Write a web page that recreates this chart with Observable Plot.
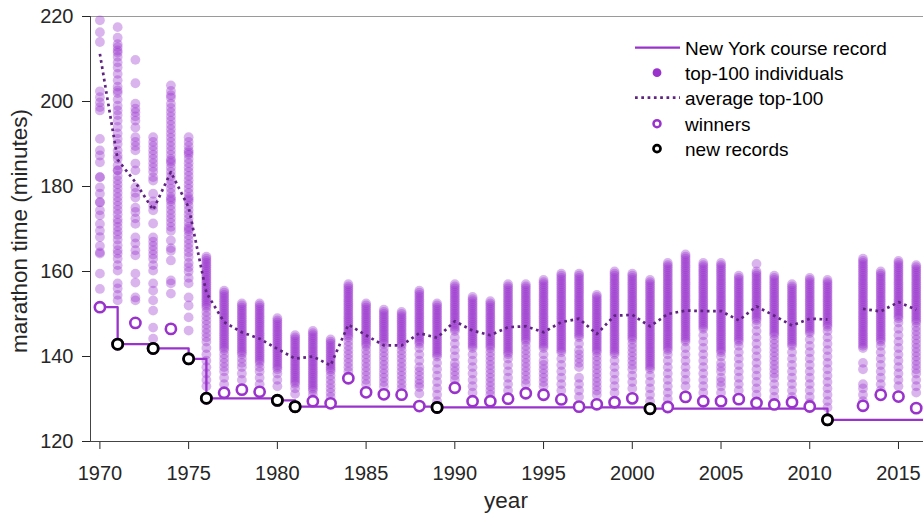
<!DOCTYPE html>
<html><head><meta charset="utf-8">
<script src="https://cdn.jsdelivr.net/npm/d3@7"></script>
<script src="https://cdn.jsdelivr.net/npm/@observablehq/plot@0.6"></script>
<style>
body{margin:0;background:#fff;font-family:"Liberation Sans",Arial,Helvetica,sans-serif;}
#wrap{position:relative;width:923px;height:514px;overflow:hidden;}
.lab{position:absolute;color:#262626;font-size:22.5px;white-space:nowrap;line-height:normal;}
#legend{position:absolute;left:635px;top:34.5px;font-size:19px;color:#000;}
#legend .row{display:flex;align-items:center;height:25.4px;}
#legend svg{width:45px;height:25.4px;margin-right:5px;flex:none;}
#legend span{line-height:1;position:relative;top:1px;}
</style></head><body><div id="wrap"></div>
<script>
// ---- data ----
const years = [1970,1971,1972,1973,1974,1975,1976,1977,1978,1979,1980,1981,1982,1983,1984,1985,1986,1987,1988,1989,1990,1991,1992,1993,1994,1995,1996,1997,1998,1999,2000,2001,2002,2003,2004,2005,2006,2007,2008,2009,2010,2011,2013,2014,2015,2016];

const winnerTimes = [151.6,142.9,147.9,141.9,146.5,139.45,130.17,131.47,132.2,131.7,129.68,128.2,129.48,128.98,134.88,131.57,131.1,131.02,128.33,128.02,132.65,129.47,129.48,130.07,131.35,131.0,129.9,128.2,128.75,129.23,130.15,127.72,128.12,130.5,129.47,129.5,129.97,129.07,128.72,129.25,128.23,125.1,128.4,130.98,130.57,127.85];

const recordYears = [1970,1971,1973,1975,1976,1980,1981,1989,2001,2011];
const recordTimes = [151.6,142.9,141.9,139.45,130.17,129.68,128.2,128.02,127.72,125.1];
const newRecordYears = [1971,1973,1975,1976,1980,1981,1989,2001,2011];

const avgYears = [1970,1971,1972,1973,1974,1975,1976,1977,1978,1979,1980,1981,1982,1983,1984,1985,1986,1987,1988,1989,1990,1991,1992,1993,1994,1995,1996,1997,1998,1999,2000,2001,2002,2003,2004,2005,2006,2007,2008,2009,2010,2011,2012,2013,2014,2015,2016];
const avgTop100 = [211.2,186.3,181.0,174.5,183.4,175.1,155.0,148.1,145.7,144.2,141.8,139.5,140.0,137.9,147.5,145.0,142.6,142.6,145.5,144.4,148.3,146.1,145.0,146.9,147.1,145.7,148.1,148.9,145.3,149.6,149.8,147.1,150.0,150.8,150.7,150.7,148.5,151.8,149.6,147.3,148.9,148.7,null,151.2,150.6,152.8,151.0];

// top-100 finishing times per year (minutes), aligned with `years`
const top100 = [
[151.6,155.9,159.5,164.2,164.5,166,168.1,169.6,171.2,173.2,174.4,176.3,176.3,178.3,179.8,182.2,182.2,185.7,187.3,188.5,191.2,197.9,198.7,199.8,201,202.4,214,216.3,219.1],
[153.2,154.5,156,157.2,160.2,161.5,163,164.2,165,166.2,167.5,168.6,169.5,170.5,171.5,172.3,173.5,174.5,175.5,176.5,177.5,178.5,179.5,180.5,181.5,182.5,183.8,183.8,185,186.5,187.3,188.5,190,191.2,192.5,194,195.5,196.8,197.9,199,200.5,202,202.6,203.5,205,206.5,208,209.2,210.5,211.5,212,212.8,213.5,215,217.5],
[153.2,153.9,157.4,159.5,163.8,165,166.6,168,171.2,172.5,174,175,177.4,178.5,179.8,183.8,185.4,188.5,189.5,190.5,191.6,193.9,195.5,196.5,197.5,198.3,199.5,204.3,209.8],
[144.2,146.8,150.8,153.2,155.5,157.2,160.2,161.5,163,164,165,166,167,168,171.3,174.4,175.5,176.5,178.3,181.4,182.2,183.5,184.5,185.5,186.5,187.5,188.5,189.5,190.5,191.6],
[154.8,157.2,157.9,162.6,164.9,165.5,167.3,169.6,170.5,171.5,172.5,173.5,174.5,175.5,176.5,177,177.5,178.5,179.5,180.5,181.5,182.5,183.5,184.5,185.5,186,186.5,187.5,188.5,189.5,190.5,191.5,192.5,193.5,194.5,195.5,196.5,197.5,198.5,199.5,200.9,201.5,202.5,203.8],
[146.1,149.2,152,153.9,157.2,158.5,160,161,162,163.4,164.5,165.5,166.5,167.5,168.5,169.5,170,170.5,171.5,172.5,173.5,174.5,175.5,176.5,177,177.5,178.5,179.5,180.5,181.5,182.5,183.5,184.5,185.5,186.5,187.5,188,188.5,189.5,190.5,191.6],
[133,134.5,136,137.5,139,140.5,142,143.5,144.5,145.5,146.5,147.5,148.5,149.5,150.5,151.5,152,152.5,153,153.5,154,154.5,155,155.5,156,156.5,157,157.5,158,158.5,159,159.5,160,160.5,161,161.5,162,162.5,163,163.5],
[133.5,135,136.5,137.5,138.5,139.5,140.5,141.5,142,142.5,143,143.5,144,144.5,145,145.5,146,146.5,147,147.5,148,148.5,149,149.5,150,150.5,151,151.5,152,152.5,153,153.5,154,154.5,155,155.5],
[134.5,136,137.5,138.5,139.5,140.5,141,141.5,142,142.5,143,143.5,144,144.5,145,145.5,146,146.5,147,147.5,148,148.5,149,149.5,150,150.5,151,151.5,152,152.5],
[133.5,135,136.5,137.5,138.5,139,139.5,140,140.5,141,141.5,142,142.5,143,143.5,144,144.5,145,145.5,146,146.5,147,147.5,148,148.5,149,149.5,150,150.5,151,151.5,152,152.5],
[133,134.5,136,137,137.5,138,138.5,139,139.5,140,140.5,141,141.5,142,142.5,143,143.5,144,144.5,145,145.5,146,146.5,147,147.5,148,148.5,149],
[131.2,132.5,133.5,134,134.5,135,135.5,136,136.5,137,137.5,138,138.5,139,139.5,140,140.5,141,141.5,142,142.5,143,143.5,144,144.5,145],
[131,132,132.5,133,133.5,134,134.5,135,135.5,136,136.5,137,137.5,138,138.5,139,139.5,140,140.5,141,141.5,142,142.5,143,143.5,144,144.5,145,145.5,146],
[130.5,131.5,132.5,133.5,134.5,135.5,136.5,137,137.5,138,138.5,139,139.5,140,140.5,141,141.5,142,142.5,143,143.5,144],
[136.5,137.5,138.5,139.5,140.5,141.5,142.5,143.5,144.5,145,145.5,146,146.5,147,147.5,148,148.5,149,149.5,150,150.5,151,151.5,152,152.5,153,153.5,154,154.5,155,155.5,156,156.5,157],
[133.5,134.5,135.5,136.5,137.5,138.5,139.5,140.5,141.5,142.5,143,143.5,144,144.5,145,145.5,146,146.5,147,147.5,148,148.5,149,149.5,150,150.5,151,151.5,152,152.5],
[133,134,135,136,137,138,139,140,141,142,143,143.5,144,144.5,145,145.5,146,146.5,147,147.5,148,148.5,149,149.5,150,150.5,151],
[132.5,133.5,134.5,135.5,136.5,137.5,138.5,139.5,140.5,141.5,142.5,143,143.5,144,144.5,145,145.5,146,146.5,147,147.5,148,148.5,149,149.5,150,150.5],
[131.3,132.8,133.6,134.5,135.5,136.5,137.5,139,140.5,142,143,143.5,144,144.5,145,145.5,146,146.5,147,147.5,148,148.5,149,149.5,150,150.5,151,151.5,152,152.5,153,153.5,154,154.5,155,155.5],
[129.5,131,132.5,134,135.5,137,138.5,140,140.5,141,141.5,142,142.5,143,143.5,144,144.5,145,145.5,146,146.5,147,147.5,148,148.5,149,149.5,150,150.5,151,151.5,152,152.5],
[134.5,135.5,136.5,137.5,138.5,140,141.5,143,144.5,146,146.5,147,147.5,148,148.5,149,149.5,150,150.5,151,151.5,152,152.5,153,153.5,154,154.5,155,155.5,156,156.5,157],
[131.5,133,134.5,136,137.5,139,140.5,142,142.5,143,143.5,144,144.5,145,145.5,146,146.5,147,147.5,148,148.5,149,149.5,150,150.5,151,151.5,152,152.5,153,153.5,154],
[131,132,133,134,135,136,137,138,139,140,141,142,142.5,143,143.5,144,144.5,145,145.5,146,146.5,147,147.5,148,148.5,149,149.5,150,150.5,151,151.5,152,152.5,153],
[132,133.5,135,136.5,138,139.5,140.5,141,141.5,142,142.5,143,143.5,144,144.5,145,145.5,146,146.5,147,147.5,148,148.5,149,149.5,150,150.5,151,151.5,152,152.5,153,153.5,154,154.5,155,155.5,156,156.5,157],
[133.5,134.5,135.5,136.5,137.5,138.5,139.5,140.5,141.5,142.5,143.5,144,144.5,145,145.5,146,146.5,147,147.5,148,148.5,149,149.5,150,150.5,151,151.5,152,152.5,153,153.5,154,154.5,155,155.5,156,156.5,157],
[133,134,135,136,137,138,139,140.5,142,142.5,143,143.5,144,144.5,145,145.5,146,146.5,147,147.5,148,148.5,149,149.5,150,150.5,151,151.5,152,152.5,153,153.5,154,154.5,155,155.5,156,156.5,157,157.5,158],
[132,133.5,135,136.5,138,139.5,141,141.5,142,142.5,143,143.5,144,144.5,145,145.5,146,146.5,147,147.5,148,148.5,149,149.5,150,150.5,151,151.5,152,152.5,153,153.5,154,154.5,155,155.5,156,156.5,157,157.5,158,158.5,159,159.5],
[130.5,132,133.5,135,137.5,138.5,139.5,140.5,141.5,143,144.5,145,145.5,146,146.5,147,147.5,148,148.5,149,149.5,150,150.5,151,151.5,152,152.5,153,153.5,154,154.5,155,155.5,156,156.5,157,157.5,158,158.5,159,159.5],
[131,132,133,134,135,136,137,138,139,140,141,141.5,142,142.5,143,143.5,144,144.5,145,145.5,146,146.5,147,147.5,148,148.5,149,149.5,150,150.5,151,151.5,152,152.5,153,153.5,154,154.5],
[131.5,133,134.5,136,137.5,139,140.5,141,141.5,142,142.5,143,143.5,144,144.5,145,145.5,146,146.5,147,147.5,148,148.5,149,149.5,150,150.5,151,151.5,152,152.5,153,153.5,154,154.5,155,155.5,156,156.5,157,157.5,158,158.5,159,159.5,160],
[132.5,134,135.5,137,138,139,140,141,142,143,144,144.5,145,145.5,146,146.5,147,147.5,148,148.5,149,149.5,150,150.5,151,151.5,152,152.5,153,153.5,154,154.5,155,155.5,156,156.5,157,157.5,158,158.5,159,159.5],
[129.5,131,132.5,134,135.5,137,137.5,138,138.5,139,139.5,140,140.5,141,141.5,142,142.5,143,143.5,144,144.5,145,145.5,146,146.5,147,147.5,148,148.5,149,149.5,150,150.5,151,151.5,152,152.5,153,153.5,154,154.5,155,155.5,156,156.5,157,157.5,158],
[130,131.5,133,134.5,136,137.5,139,140.5,141.5,142,142.5,143,143.5,144,144.5,145,145.5,146,146.5,147,147.5,148,148.5,149,149.5,150,150.5,151,151.5,152,152.5,153,153.5,154,154.5,155,155.5,156,156.5,157,157.5,158,158.5,159,159.5,160,160.5,161,161.5,162],
[133,134.5,136,137.5,139,140.5,142,143.5,144,144.5,145,145.5,146,146.5,147,147.5,148,148.5,149,149.5,150,150.5,151,151.5,152,152.5,153,153.5,154,154.5,155,155.5,156,156.5,157,157.5,158,158.5,159,159.5,160,160.5,161,161.5,162,162.5,163,163.5,164],
[131.5,133,134.5,136,137.5,139,140.5,142,143.5,145,146.5,147,147.5,148,148.5,149,149.5,150,150.5,151,151.5,152,152.5,153,153.5,154,154.5,155,155.5,156,156.5,157,157.5,158,158.5,159,159.5,160,160.5,161,161.5,162],
[131.5,133,134,135,136.5,137.5,138.5,140,141,141.5,142,142.5,143,143.5,144,144.5,145,145.5,146,146.5,147,147.5,148,148.5,149,149.5,150,150.5,151,151.5,152,152.5,153,153.5,154,154.5,155,155.5,156,156.5,157,157.5,158,158.5,159,159.5,160,160.5,161,161.5,162],
[132,133.5,135,136.5,138,139.5,141,142.5,143.5,144,144.5,145,145.5,146,146.5,147,147.5,148,148.5,149,149.5,150,150.5,151,151.5,152,152.5,153,153.5,154,154.5,155,155.5,156,156.5,157,157.5,158,158.5,159],
[131,132.5,134,135.5,137,138.5,140,141.5,143,144.5,146,147.5,148.5,149,149.5,150,150.5,151,151.5,152,152.5,153,153.5,154,154.5,155,155.5,156,156.5,157,157.5,158,158.5,159,159.5,160,161.8],
[130.5,132,133.5,135,136,137,138,139,140,141,142,143,144,145,145.5,146,146.5,147,147.5,148,148.5,149,149.5,150,150.5,151,151.5,152,152.5,153,153.5,154,154.5,155,155.5,156,156.5,157,157.5,158,158.5,159],
[130.5,132,133.5,135,136.5,138,139.5,141,142.5,143,143.5,144,144.5,145,145.5,146,146.5,147,147.5,148,148.5,149,149.5,150,150.5,151,151.5,152,152.5,153,153.5,154,154.5,155,155.5,156,156.5,157],
[129,130.5,132,133.5,135,136.5,138,139.5,141,142.5,144,145.5,146,146.5,147,147.5,148,148.5,149,149.5,150,150.5,151,151.5,152,152.5,153,153.5,154,154.5,155,155.5,156,156.5,157,157.5,158,158.5],
[128,129.5,131,132.5,134,135.5,137,138.5,140,141.5,143,144.5,146,147,147.5,148,148.5,149,149.5,150,150.5,151,151.5,152,152.5,153,153.5,154,154.5,155,155.5,156,156.5,157,157.5,158],
[129.5,131,132.5,133.5,137,138.5,142,142.5,143,143.5,144,144.5,145,145.5,146,146.5,147,147.5,148,148.5,149,149.5,150,150.5,151,151.5,152,152.5,153,153.5,154,154.5,155,155.5,156,156.5,157,157.5,158,158.5,159,159.5,160,160.5,161,161.5,162,162.5,163],
[132,133.5,135,136.5,138,139.5,141,142.5,143.5,144,144.5,145,145.5,146,146.5,147,147.5,148,148.5,149,149.5,150,150.5,151,151.5,152,152.5,153,153.5,154,154.5,155,155.5,156,156.5,157,157.5,158,158.5,159,159.5,160],
[133,134.5,136,137.5,139,140.5,142,143.5,145,146.5,148,149,149.5,150,150.5,151,151.5,152,152.5,153,153.5,154,154.5,155,155.5,156,156.5,157,157.5,158,158.5,159,159.5,160,160.5,161,161.5,162,162.5],
[131.5,133,134.5,136,137,138,139,140,141,142,143,144,145,146,147,148,148.5,149,149.5,150,150.5,151,151.5,152,152.5,153,153.5,154,154.5,155,155.5,156,156.5,157,157.5,158,158.5,159,159.5,160,160.5,161,161.5]
];

const xTicks = [1970,1975,1980,1985,1990,1995,2000,2005,2010,2015];
const yTicks = [120,140,160,180,200,220];
const xDomain = [1969.47, 2016.41];
const yDomain = [120, 220];

// ---- build tables ----
const purple = "#9933cc";
const darkPurple = "#5f2380";
const dots = years.flatMap((yr, i) => top100[i].map(t => ({year: yr, time: t})));
const winners = years.map((yr, i) => ({year: yr, time: winnerTimes[i]}));
const records = newRecordYears.map(yr => ({year: yr, time: winnerTimes[years.indexOf(yr)]}));
const recordLine = recordYears.map((yr, i) => ({year: yr, time: recordTimes[i]}))
  .concat([{year: xDomain[1], time: recordTimes[recordTimes.length - 1]}]);
const avg = avgYears.map((yr, i) => ({year: yr, time: avgTop100[i]}));

const chart = Plot.plot({
  width: 923, height: 514,
  marginLeft: 90, marginRight: 0, marginTop: 16, marginBottom: 73,
  style: {fontFamily: "'Liberation Sans', Arial, Helvetica, sans-serif", fontSize: "20px", color: "#262626", background: "white"},
  x: {domain: xDomain, ticks: xTicks, tickFormat: "d", tickSize: 8, tickPadding: 16, label: null},
  y: {domain: yDomain, ticks: yTicks, tickSize: 8, tickPadding: 9, label: null},
  marks: [
    Plot.ruleY([yDomain[1]], {stroke: "#9a9a9a", strokeWidth: 1}),
    Plot.ruleY([yDomain[0]], {stroke: "#444", strokeWidth: 1}),
    Plot.ruleX([xDomain[0]], {stroke: "#444", strokeWidth: 1}),
    Plot.dot(dots, {x: "year", y: "time", r: 4.9, fill: purple, fillOpacity: 0.36, stroke: null}),
    Plot.line(avg, {x: "year", y: "time", stroke: darkPurple, strokeWidth: 2.7, strokeDasharray: "2.7,3.6", strokeLinecap: "butt"}),
    Plot.line(recordLine, {x: "year", y: "time", curve: "step-after", stroke: purple, strokeWidth: 2.3}),
    Plot.dot(winners, {x: "year", y: "time", r: 5.1, fill: "white", stroke: purple, strokeWidth: 2.6}),
    Plot.dot(records, {x: "year", y: "time", r: 5.1, fill: "white", stroke: "black", strokeWidth: 2.8})
  ]
});

const wrap = document.getElementById("wrap");
wrap.appendChild(chart);

// axis labels
const yl = document.createElement("div");
yl.className = "lab";
yl.textContent = "marathon time (minutes)";
yl.style.left = "20px"; yl.style.top = "231px";
yl.style.transform = "translate(-50%,-50%) rotate(-90deg)";
wrap.appendChild(yl);
const xl = document.createElement("div");
xl.className = "lab";
xl.textContent = "year";
xl.style.left = "506px"; xl.style.top = "488px";
xl.style.transform = "translateX(-50%)";
wrap.appendChild(xl);

// legend
const legendItems = [
  {label: "New York course record", svg: `<line x1="0" x2="45" y1="12.7" y2="12.7" stroke="${purple}" stroke-width="2.3"/>`},
  {label: "top-100 individuals", svg: `<circle cx="22" cy="12.7" r="4.4" fill="${purple}"/>`},
  {label: "average top-100", svg: `<line x1="0" x2="45" y1="12.7" y2="12.7" stroke="${darkPurple}" stroke-width="2.7" stroke-dasharray="2.7,3.6"/>`},
  {label: "winners", svg: `<circle cx="22" cy="12.7" r="3.5" fill="white" stroke="${purple}" stroke-width="2.5"/>`},
  {label: "new records", svg: `<circle cx="22" cy="12.7" r="3.5" fill="white" stroke="black" stroke-width="2.7"/>`}
];
const lg = document.createElement("div");
lg.id = "legend";
lg.innerHTML = legendItems.map(d => `<div class="row"><svg viewBox="0 0 45 25.4">${d.svg}</svg><span>${d.label}</span></div>`).join("");
wrap.appendChild(lg);
</script></body></html>
